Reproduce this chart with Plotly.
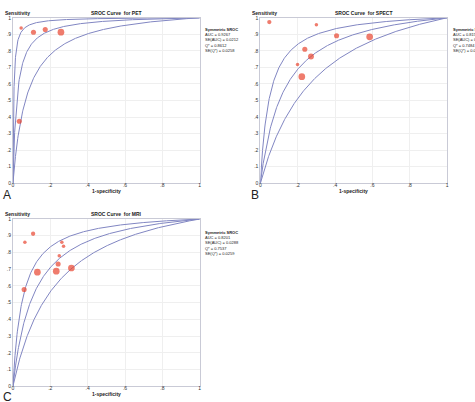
import numpy as np
import plotly.graph_objects as go

W, H = 475, 402

# ---------------- data ----------------
pet_fpr = [0.044, 0.110, 0.173, 0.257, 0.034]
pet_sens = [0.938, 0.913, 0.929, 0.913, 0.375]
pet_weight = [1, 2, 2, 3, 2]
pet_dor = [230, 48, 14]
pet_stats = ["Symmetric SROC", "AUC = 0.9267", "SE(AUC) = 0.0212", "Q* = 0.8612", "SE(Q*) = 0.0258"]

spect_fpr = [0.048, 0.300, 0.408, 0.585, 0.238, 0.271, 0.199, 0.222]
spect_sens = [0.974, 0.958, 0.891, 0.885, 0.810, 0.766, 0.717, 0.644]
spect_weight = [1.5, 1, 2, 3, 2, 2.5, 1, 3]
spect_dor = [21, 8.85, 4.2]
spect_stats = ["Symmetric SROC", "AUC = 0.8152", "SE(AUC) = 0.0412", "Q* = 0.7484", "SE(Q*) = 0.0368"]

mri_fpr = [0.064, 0.108, 0.060, 0.131, 0.262, 0.271, 0.248, 0.242, 0.232, 0.313]
mri_sens = [0.861, 0.912, 0.578, 0.682, 0.861, 0.837, 0.780, 0.731, 0.688, 0.707]
mri_weight = [1, 1.5, 2, 3, 1, 1, 1, 2, 3, 3]
mri_dor = [20, 9.8, 5.2]
mri_stats = ["Symmetric SROC", "AUC = 0.8201", "SE(AUC) = 0.0288", "Q* = 0.7537", "SE(Q*) = 0.0259"]

titles = ["SROC Curve  for PET", "SROC Curve  for SPECT", "SROC Curve  for MRI"]
panel_letters = ["A", "B", "C"]
xtick_vals = [0, 0.2, 0.4, 0.6, 0.8, 1]
xtick_text = ["0", ".2", ".4", ".6", ".8", "1"]
ytick_vals = [0, 0.1, 0.2, 0.3, 0.4, 0.5, 0.6, 0.7, 0.8, 0.9, 1]
ytick_text = ["0", ".1", ".2", ".3", ".4", ".5", ".6", ".7", ".8", ".9", "1"]

# ---------------- layout geometry (pixels) ----------------
panels = [
    dict(x0=12, x1=200, y0=15, y1=183, fpr=pet_fpr, sens=pet_sens, w=pet_weight, dor=pet_dor, stats=pet_stats,
         leg_x=204, leg_y=23.5, letter=(1, 195)),
    dict(x0=261, x1=449, y0=15, y1=183, fpr=spect_fpr, sens=spect_sens, w=spect_weight, dor=spect_dor, stats=spect_stats,
         leg_x=454, leg_y=23.5, letter=(251, 195)),
    dict(x0=12, x1=200, y0=219.3, y1=389, fpr=mri_fpr, sens=mri_sens, w=mri_weight, dor=mri_dor, stats=mri_stats,
         leg_x=204, leg_y=229.3, letter=(1, 400)),
]

def px(x):
    return x / W

def py(y):
    return 1 - y / H

FONT = "Liberation Sans, Arial, sans-serif"
CURVE = "#8186c2"
DOT = "#e8452f"

fig = go.Figure()
grid = np.concatenate([np.linspace(0, 0.02, 300), np.linspace(0.02, 1, 500)])
annotations = []

def note(x, y, text, size=5, xanchor="left", yanchor="middle"):
    annotations.append(dict(x=px(x), y=py(y), xref="paper", yref="paper", text=text,
                            showarrow=False, xanchor=xanchor, yanchor=yanchor, align="left",
                            borderpad=0,
                            font=dict(size=size, color="#222222", family=FONT)))

for i, p in enumerate(panels):
    xa = "x" if i == 0 else f"x{i+1}"
    ya = "y" if i == 0 else f"y{i+1}"
    for d in p["dor"]:
        s = d * grid / ((1 - grid) + d * grid)
        fig.add_trace(go.Scatter(x=grid, y=s, mode="lines", xaxis=xa, yaxis=ya,
                                 line=dict(color=CURVE, width=1), hoverinfo="skip", showlegend=False))
    sizes = [3.5 + 1.6 * (w - 1) for w in p["w"]]
    fig.add_trace(go.Scatter(x=p["fpr"], y=p["sens"], mode="markers", xaxis=xa, yaxis=ya,
                             marker=dict(color=DOT, size=sizes, line=dict(width=0)), showlegend=False))
    axis_common = dict(range=[0, 1], showgrid=True, gridcolor="#efefef", gridwidth=1, zeroline=False,
                       showline=True, linecolor="#c9cad6", linewidth=1, mirror=True,
                       ticks="", tickfont=dict(size=5, color="#333333", family=FONT), fixedrange=True)
    fig.layout[f"xaxis{'' if i == 0 else i+1}"] = dict(
        axis_common, domain=[px(p["x0"]), px(p["x1"])], anchor=ya,
        tickvals=xtick_vals, ticktext=xtick_text, ticklabelstandoff=-3)
    fig.layout[f"yaxis{'' if i == 0 else i+1}"] = dict(
        axis_common, domain=[py(p["y1"]), py(p["y0"])], anchor=xa,
        tickvals=ytick_vals, ticktext=ytick_text)
    cx = (p["x0"] + p["x1"]) / 2
    note(cx + 10, p["y0"] - 5, "<b>" + titles[i] + "</b>", xanchor="center")
    note(p["x0"] - 9, p["y0"] - 5, "<b>Sensitivity</b>")
    note(cx, p["y1"] + 8, "<b>1-specificity</b>", xanchor="center")
    stats_text = "<br>".join([("<b>" + t + "</b>") if j == 0 else t for j, t in enumerate(p["stats"])])
    note(p["leg_x"], p["leg_y"], stats_text, size=4, yanchor="top")
    lx, ly = p["letter"]
    note(lx, ly, panel_letters[i], size=12)

fig.update_layout(width=W, height=H, margin=dict(l=0, r=0, t=0, b=0),
                  paper_bgcolor="white", plot_bgcolor="white", annotations=annotations,
                  showlegend=False)
fig.write_html("out.html")
